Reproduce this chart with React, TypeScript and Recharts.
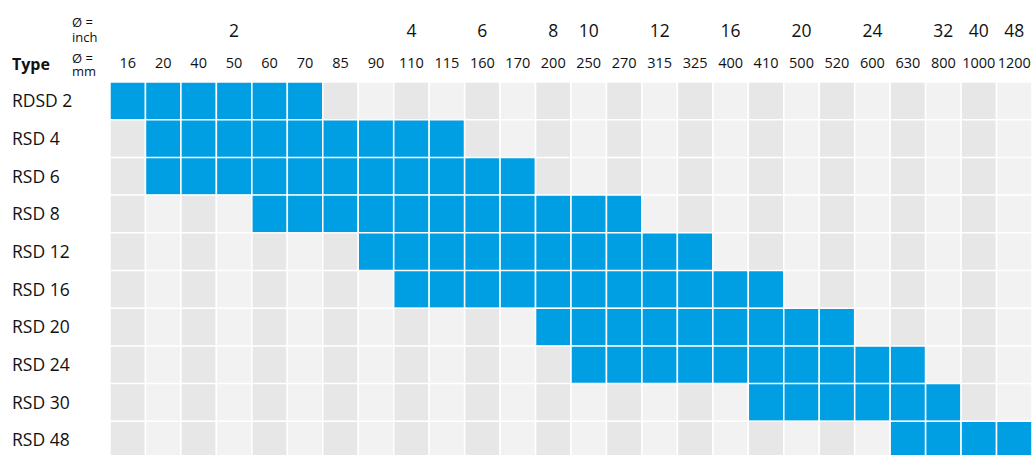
import React from 'react';
import { BarChart, Bar, XAxis, YAxis, Cell } from 'recharts';

// column headers (pipe sizes)
const mmSizes = ['16', '20', '40', '50', '60', '70', '85', '90', '110', '115', '160', '170', '200', '250', '270', '315', '325', '400', '410', '500', '520', '600', '630', '800', '1000', '1200'];
const inchSizes = ['', '', '', '2', '', '', '', '', '4', '', '6', '', '8', '10', '', '12', '', '16', '', '20', '', '24', '', '32', '40', '48'];

// rows and their covered range (mm)
const types = ['RDSD 2', 'RSD 4', 'RSD 6', 'RSD 8', 'RSD 12', 'RSD 16', 'RSD 20', 'RSD 24', 'RSD 30', 'RSD 48'];
const rangeFrom = ['16', '20', '20', '60', '90', '110', '200', '250', '410', '630'];
const rangeTo = ['70', '115', '170', '270', '325', '410', '520', '630', '800', '1200'];

const BLUE = '#009fe3';
const GRAY_DARK = '#e7e7e7';
const GRAY_LIGHT = '#f2f2f2';
const TEXT = '#111111';
const FONT = '"Open Sans", sans-serif';

const rows = types.map((type) => {
  const row: Record<string, string | number> = { type };
  mmSizes.forEach((_, c) => {
    row[`c${c}`] = 1;
  });
  return row;
});

const cellFill = (r: number, c: number): string => {
  const lo = mmSizes.indexOf(rangeFrom[r]);
  const hi = mmSizes.indexOf(rangeTo[r]);
  if (c >= lo && c <= hi) return BLUE;
  return c % 2 === 0 ? GRAY_DARK : GRAY_LIGHT;
};

const SizeTick = (props: any) => {
  const { x, y, payload } = props;
  const i = Math.floor(payload.value);
  return (
    <g>
      <text x={x} y={y - 14} textAnchor="middle" fontSize={14.5} fill={TEXT} fontFamily={FONT}>
        {mmSizes[i]}
      </text>
      {inchSizes[i] && (
        <text x={x} y={y - 45} textAnchor="middle" fontSize={17.5} fill={TEXT} fontFamily={FONT}>
          {inchSizes[i]}
        </text>
      )}
    </g>
  );
};

const TypeTick = (props: any) => {
  const { y, payload } = props;
  return (
    <text x={12} y={y} dy="0.36em" textAnchor="start" fontSize={17.5} fill={TEXT} fontFamily={FONT}>
      {payload.value}
    </text>
  );
};

export default function App() {
  return (
    <div style={{ position: 'relative', width: 1032, height: 455, overflow: 'hidden', background: '#fff' }}>
      <style>{'body{margin:0;overflow:hidden}'}</style>
      <BarChart
        width={1032}
        height={459}
        data={rows}
        layout="vertical"
        barCategoryGap={0}
        margin={{ top: 0, right: 0, bottom: 0, left: 0 }}
      >
        <XAxis
          type="number"
          orientation="top"
          domain={[0, mmSizes.length]}
          ticks={mmSizes.map((_, i) => i + 0.5)}
          interval={0}
          height={82}
          axisLine={false}
          tickLine={false}
          tickSize={0}
          tickMargin={0}
          tick={<SizeTick />}
        />
        <YAxis
          type="category"
          dataKey="type"
          width={110}
          axisLine={false}
          tickLine={false}
          tick={<TypeTick />}
        />
        {mmSizes.map((_, c) => (
          <Bar
            key={c}
            dataKey={`c${c}`}
            stackId="grid"
            isAnimationActive={false}
            stroke="#ffffff"
            strokeWidth={1.5}
          >
            {rows.map((_, r) => (
              <Cell key={r} fill={cellFill(r, c)} />
            ))}
          </Bar>
        ))}
      </BarChart>
      <svg width={110} height={82} style={{ position: 'absolute', left: 0, top: 0 }}>
        <text x={12} y={70} fontSize={16} fontWeight="bold" fill={TEXT} fontFamily={FONT}>Type</text>
        <text fontSize={13} fill={TEXT} fontFamily={FONT}>
          <tspan x={72} y={27}>Ø =</tspan>
          <tspan x={72} y={42}>inch</tspan>
        </text>
        <text fontSize={13} fill={TEXT} fontFamily={FONT}>
          <tspan x={72} y={63}>Ø =</tspan>
          <tspan x={72} y={76}>mm</tspan>
        </text>
      </svg>
    </div>
  );
}
